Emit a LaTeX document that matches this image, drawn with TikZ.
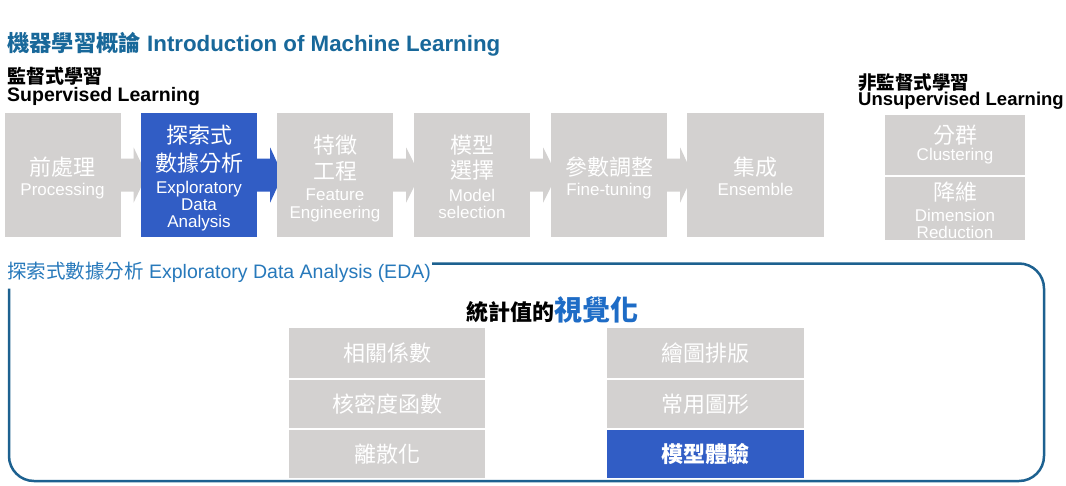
\documentclass[tikz,border=0pt]{standalone}
\usepackage{fontspec}
\setmainfont{Liberation Sans}
\newfontfamily\cjk{Noto Sans CJK TC}
\usetikzlibrary{calc}
\pgfdeclarelayer{bg}
\pgfsetlayers{bg,main}
\definecolor{titleblue}{HTML}{18689A}
\definecolor{edablue}{HTML}{2779BB}
\definecolor{framecol}{HTML}{1D6190}
\definecolor{vizblue}{HTML}{1E6CC6}
\definecolor{boxgrey}{HTML}{D3D1D0}
\definecolor{boxblue}{HTML}{315DC5}
\newcommand\fsz[1]{\fontsize{#1}{#1}\selectfont}
\newcommand\chevarrow[3]{%
  \begin{pgfonlayer}{bg}
  \fill[#1] ($(#2.east)+(-1,-16.5)$) -- ($(#2.east)+(13,-16.5)$) -- ($(#2.east)+(13,-27.5)$)
    -- ($(#3.west)+(6,0)$) -- ($(#2.east)+(13,27.5)$) -- ($(#2.east)+(13,16.5)$)
    -- ($(#2.east)+(-1,16.5)$) -- cycle;
  \end{pgfonlayer}}
\tikzset{
  stepbox/.style={fill=boxgrey, draw=none, inner sep=0pt, minimum width=116pt, minimum height=124pt},
  bluebox/.style={stepbox, fill=boxblue},
  zh/.style={anchor=base, inner sep=0pt, text=white, font=\cjk\fsz{22}},
  en/.style={anchor=base, inner sep=0pt, text=white, font=\fsz{17}},
  listbox/.style={fill=boxgrey, draw=none, inner sep=0pt, text=white, font=\cjk\fsz{22}},
  listblue/.style={listbox, fill=boxblue, font=\cjk\bfseries\fsz{22}},
}
\begin{document}
\begin{tikzpicture}[x=1pt,y=-1pt]
\useasboundingbox (0,0) rectangle (1066,485);
\begin{pgfonlayer}{bg}
\fill[white] (0,0) rectangle (1066,485);
\end{pgfonlayer}

% title
\node[anchor=base west, inner sep=0pt, text=titleblue, font=\bfseries\fsz{22.3}] (title) at (7,51)
  {{\cjk 機器學習概論} Introduction of Machine Learning};
\node[anchor=base west, inner sep=0pt, font=\cjk\bfseries\fsz{19}] (supzh) at (7,83.7) {監督式學習};
\node[anchor=base west, inner sep=0pt, font=\bfseries\fsz{19.5}] (supen) at (7,101.7) {Supervised Learning};
\node[anchor=base west, inner sep=0pt, font=\cjk\bfseries\fsz{18.5}] (unsupzh) at (858,89) {非監督式學習};
\node[anchor=base west, inner sep=0pt, font=\bfseries\fsz{18.5}] (unsupen) at (858,105) {Unsupervised Learning};

% top row boxes
\node[stepbox] (b1) at (62.5,175) {};
\node[bluebox] (b2) at (199,175) {};
\node[stepbox] (b3) at (335,175) {};
\node[stepbox] (b4) at (472,175) {};
\node[stepbox] (b5) at (609,175) {};
\node[stepbox, minimum width=137pt] (b6) at (755.5,175) {};

\chevarrow{boxgrey}{b1}{b2}
\chevarrow{boxblue}{b2}{b3}
\chevarrow{boxgrey}{b3}{b4}
\chevarrow{boxgrey}{b4}{b5}
\chevarrow{boxgrey}{b5}{b6}

\node[zh] (b1a) at (62.5,175.5) {前處理};
\node[en] (b1b) at (62.5,195) {Processing};
\node[zh] (b2a) at (199,143.5) {探索式};
\node[zh] (b2b) at (199,171.5) {數據分析};
\node[en] (b2c) at (199,193) {Exploratory};
\node[en] (b2d) at (199,210) {Data};
\node[en] (b2e) at (199,227.5) {Analysis};
\node[zh] (b3a) at (335,153.5) {特徵};
\node[zh] (b3b) at (335,179.5) {工程};
\node[en] (b3c) at (335,200.7) {Feature};
\node[en] (b3d) at (335,218) {Engineering};
\node[zh] (b4a) at (472,153.5) {模型};
\node[zh] (b4b) at (472,178.5) {選擇};
\node[en] (b4c) at (472,201.5) {Model};
\node[en] (b4d) at (472,218.3) {selection};
\node[zh] (b5a) at (609,175.5) {參數調整};
\node[en] (b5b) at (609,195) {Fine-tuning};
\node[zh] (b6a) at (755.5,175.5) {集成};
\node[en] (b6b) at (755.5,195) {Ensemble};

% unsupervised
\node[stepbox, minimum width=140pt, minimum height=60pt] (u1) at (955,145) {};
\node[stepbox, minimum width=140pt, minimum height=63pt] (u2) at (955,208.5) {};
\node[zh] (u1a) at (955,143.7) {分群};
\node[en] (u1b) at (955,160) {Clustering};
\node[zh] (u2a) at (955,200.5) {降維};
\node[en] (u2b) at (955,221.7) {Dimension};
\node[en] (u2c) at (955,238.7) {Reduction};

% EDA frame
\draw[framecol, line width=2.5pt, rounded corners=25pt]
  (432,263.5) -- (1044,263.5) -- (1044,481) -- (9,481) -- (9,288.5);
\node[anchor=base west, inner sep=0pt, text=edablue, font=\fsz{19.5}] (eda) at (7,278)
  {{\cjk 探索式數據分析} Exploratory Data Analysis (EDA)};
\node[anchor=base west, inner sep=0pt] (viz) at (466.6,320)
  {{\cjk\bfseries\fsz{22}統計值的}{\cjk\bfseries\fsz{28}\color{vizblue}視覺化}};

% lists
\node[listbox, minimum width=196pt, minimum height=50pt] (l1) at (387,353) {相關係數};
\node[listbox, minimum width=196pt, minimum height=48pt] (l2) at (387,404) {核密度函數};
\node[listbox, minimum width=196pt, minimum height=48pt] (l3) at (387,454) {離散化};
\node[listbox, minimum width=197pt, minimum height=50pt] (r1) at (705.5,353) {繪圖排版};
\node[listbox, minimum width=197pt, minimum height=48pt] (r2) at (705.5,404) {常用圖形};
\node[listblue, minimum width=197pt, minimum height=48pt] (r3) at (705.5,454) {模型體驗};
\end{tikzpicture}
\end{document}
